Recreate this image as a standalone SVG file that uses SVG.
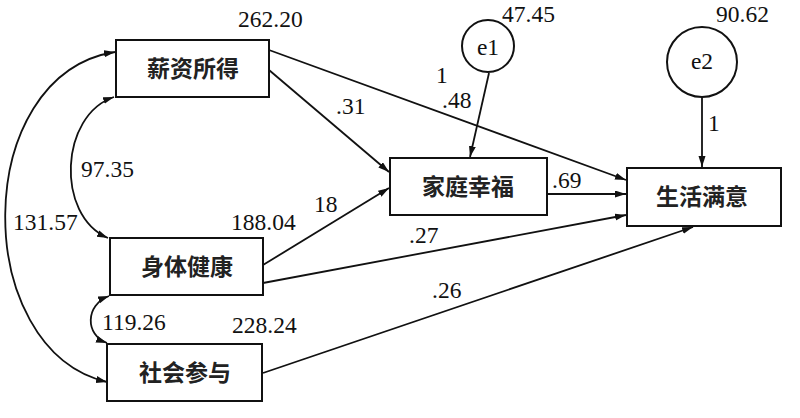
<svg xmlns="http://www.w3.org/2000/svg" width="800" height="418" viewBox="0 0 800 418">
<style>
.box{fill:#fff;stroke:#111;stroke-width:2}
.circ{fill:#fff;stroke:#111;stroke-width:2}
.cn{font-family:"Noto Sans CJK SC",sans-serif;font-size:23px;font-weight:bold;fill:#222;text-anchor:middle}
.lb{font-family:"Liberation Serif","DejaVu Serif","Times New Roman",serif;font-size:23.5px;fill:#111}
.ln{fill:none;stroke:#111;stroke-width:1.8;marker-end:url(#ah)}
.dl{fill:none;stroke:#111;stroke-width:1.8;marker-end:url(#ah);marker-start:url(#ah)}
</style>
<defs>
<marker id="ah" markerUnits="userSpaceOnUse" markerWidth="12" markerHeight="8" refX="11" refY="3.5" orient="auto-start-reverse">
<path d="M0,0 L11,3.5 L0,7 z" fill="#111"/>
</marker>
</defs>
<rect width="800" height="418" fill="#fff"/>
<g id="connectors">
<path class="ln" d="M269,70 L389,172"/>
<path class="ln" d="M269,50 L626,180"/>
<path class="ln" d="M489,73 L470,157"/>
<path class="ln" d="M263,265 L389,188"/>
<path class="ln" d="M263,283 L626,215"/>
<path class="ln" d="M547,194 L626,194"/>
<path class="ln" d="M263,373 L693,227"/>
<path class="ln" d="M702,97 L702,167"/>
<path class="dl" d="M114,97 C60,115 55,215 108,238"/>
<path class="dl" d="M115,52 C-30,75 -30,350 107,382"/>
<path class="dl" d="M109,296 C85,305 85,335 107,343"/>
</g>
<g id="n1"><rect class="box" x="116" y="40" width="153" height="57"/><text class="cn" x="193" y="77">薪资所得</text></g>
<g id="n2"><rect class="box" x="110" y="238" width="153" height="57"/><text class="cn" x="187" y="275">身体健康</text></g>
<g id="n3"><rect class="box" x="107" y="344" width="155" height="57"/><text class="cn" x="185" y="381">社会参与</text></g>
<g id="n4"><rect class="box" x="390" y="158" width="157" height="57"/><text class="cn" x="468" y="195">家庭幸福</text></g>
<g id="n5"><rect class="box" x="627" y="168" width="154" height="58"/><text class="cn" x="702" y="205">生活满意</text></g>
<g id="e1"><circle class="circ" cx="488" cy="46" r="26"/><text class="lb" x="488" y="55" text-anchor="middle">e1</text></g>
<g id="e2"><circle class="circ" cx="702" cy="62" r="35"/><text class="lb" x="702" y="69" text-anchor="middle">e2</text></g>
<g id="labels">
<text class="lb" x="238" y="27">262.20</text>
<text class="lb" x="502" y="22">47.45</text>
<text class="lb" x="716" y="22">90.62</text>
<text class="lb" x="436" y="83">1</text>
<text class="lb" x="442" y="108">.48</text>
<text class="lb" x="336" y="114">.31</text>
<text class="lb" x="708" y="131">1</text>
<text class="lb" x="81" y="177">97.35</text>
<text class="lb" x="13" y="230">131.57</text>
<text class="lb" x="231" y="230">188.04</text>
<text class="lb" x="314" y="212">18</text>
<text class="lb" x="409" y="243">.27</text>
<text class="lb" x="552" y="188">.69</text>
<text class="lb" x="102" y="330">119.26</text>
<text class="lb" x="232" y="333">228.24</text>
<text class="lb" x="432" y="298">.26</text>
</g>
</svg>
